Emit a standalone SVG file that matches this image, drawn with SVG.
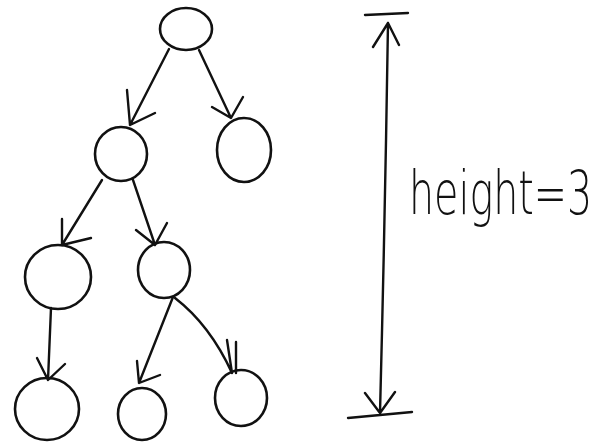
<svg xmlns="http://www.w3.org/2000/svg" width="609" height="446" viewBox="0 0 609 446">
<style>
.n{fill:none;stroke:#111;stroke-width:2.6}
.e{fill:none;stroke:#111;stroke-width:2.4;stroke-linecap:round;stroke-linejoin:round}
.t{font-family:"DejaVu Sans","Liberation Sans",sans-serif;font-size:60px;fill:#111;font-weight:200}
</style>
<rect width="609" height="446" fill="#fff"/>
<g id="root"><ellipse class="n" cx="186" cy="29" rx="26" ry="21"/></g>
<g id="n1"><ellipse class="n" cx="121" cy="154" rx="26" ry="27"/></g>
<g id="n2"><ellipse class="n" cx="244" cy="150" rx="27" ry="32"/></g>
<g id="n3"><ellipse class="n" cx="58" cy="277" rx="33" ry="32"/></g>
<g id="n4"><ellipse class="n" cx="164" cy="270" rx="26" ry="28"/></g>
<g id="n5"><ellipse class="n" cx="47" cy="409" rx="32" ry="31"/></g>
<g id="n6"><ellipse class="n" cx="142" cy="414" rx="24" ry="26"/></g>
<g id="n7"><ellipse class="n" cx="241" cy="398" rx="26" ry="28"/></g>
<g id="connectors">
<path class="e" d="M169 49 L130 125 M127 90 L130 125 L155 113"/>
<path class="e" d="M199 50 L231 118 M212 107 L231 118 L243 97"/>
<path class="e" d="M102 180 L62 245 M62 219 L62 245 L91 238"/>
<path class="e" d="M133 180 L155 245 M136 230 L155 245 L167 223"/>
<path class="e" d="M51 308 L48 380 M37 358 L48 380 L65 364"/>
<path class="e" d="M173 297 L139 383 M137 361 L139 383 L160 375"/>
<path class="e" d="M175 298 Q210 325 232 373 M227 340 L232 373 M236 342 L236 373"/>
<path class="e" d="M365 15 L408 13 M388 23 Q385 220 380 413 M373 47 L388 23 L399 45 M348 418 L412 412 M365 393 L380 413 L395 392"/>
</g>
<text class="t" transform="translate(409 214) scale(0.66 1)">height=3</text>
</svg>
